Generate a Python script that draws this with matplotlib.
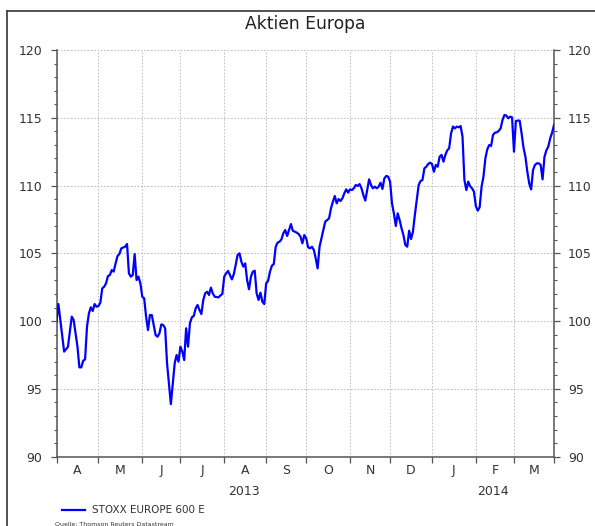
import numpy as np
import matplotlib
matplotlib.use("Agg")
import matplotlib.pyplot as plt
from matplotlib.lines import Line2D
from matplotlib.ticker import FixedLocator, FixedFormatter, MultipleLocator

# ---- data (business days since 2013-04-01, indexed value) ----
start_date = "2013-04-01"
trading_day = [0, 1, 2, 4, 6, 8, 9, 10, 11, 12, 13, 14, 15, 16, 17, 18, 19, 20, 21, 22,
               23, 24, 25, 26, 27, 28, 29, 30, 31, 32, 33, 34, 36, 37, 38, 39, 40, 41, 42, 43,
               44, 45, 46, 47, 48, 49, 50, 51, 52, 53, 54, 55, 56, 57, 58, 59, 60, 61, 62, 63,
               64, 65, 66, 67, 68, 69, 70, 71, 72, 73, 74, 75, 76, 77, 78, 79, 80, 81, 82, 83,
               85, 86, 87, 88, 89, 90, 91, 92, 93, 94, 95, 96, 97, 98, 99, 100, 101, 102, 103, 104,
               105, 106, 107, 108, 109, 110, 111, 112, 113, 114, 115, 116, 117, 118, 119, 120, 121, 122, 123, 124,
               125, 126, 127, 128, 129, 130, 131, 132, 133, 134, 135, 136, 137, 138, 139, 140, 141, 142, 143, 144,
               145, 146, 147, 148, 149, 150, 151, 152, 153, 154, 155, 156, 157, 158, 159, 160, 161, 162, 163, 164,
               165, 166, 167, 168, 169, 170, 171, 172, 173, 174, 175, 176, 177, 178, 179, 180, 181, 182, 183, 184,
               185, 186, 187, 188, 189, 190, 191, 192, 193, 194, 195, 196, 197, 198, 199, 200, 201, 202, 203, 204,
               205, 206, 207, 208, 209, 210, 211, 212, 213, 214, 215, 216, 217, 218, 219, 220, 221, 222, 223, 224,
               225, 226, 227, 228, 229, 230, 231, 232, 233, 234, 235, 236, 237, 238, 239, 240, 241, 242, 243, 244,
               245, 246, 247, 248, 249, 250, 251, 252, 253, 254, 255, 256, 257, 258, 259, 260, 261]
stoxx_600 = [100.0, 101.26, 100.08, 97.75, 98.1, 100.33, 100.08, 99.1, 98.12, 96.59, 96.59, 97.08, 97.18, 99.59, 100.57, 101.02, 100.75, 101.26, 101.06, 101.11,
             101.36, 102.42, 102.54, 102.79, 103.33, 103.4, 103.77, 103.65, 104.26, 104.8, 104.95, 105.37, 105.49, 105.69, 103.52, 103.28, 103.4, 104.95, 103.03, 103.28,
             102.79, 101.8, 101.68, 100.33, 99.34, 100.45, 100.45, 99.71, 98.97, 98.85, 99.1, 99.76, 99.71, 99.47, 96.88, 95.41, 93.88, 95.41, 96.88, 97.5,
             97.01, 98.12, 97.75, 97.13, 99.47, 98.12, 99.84, 100.28, 100.38, 100.94, 101.19, 100.82, 100.52, 101.56, 102.05, 102.17, 101.93, 102.47, 102.05, 101.8,
             101.75, 101.9, 102.0, 103.28, 103.53, 103.7, 103.4, 103.08, 103.45, 104.14, 104.88, 105.0, 104.38, 104.02, 104.26, 103.03, 102.35, 103.28, 103.65, 103.72,
             102.05, 101.56, 102.1, 101.43, 101.26, 102.79, 102.97, 103.65, 104.09, 104.21, 105.49, 105.79, 105.86, 106.03, 106.48, 106.72, 106.28, 106.72, 107.16, 106.66,
             106.6, 106.53, 106.43, 106.23, 105.74, 106.35, 106.11, 105.44, 105.37, 105.49, 105.25, 104.63, 103.89, 105.49, 106.11, 106.72, 107.34, 107.46, 107.58, 108.32,
             108.81, 109.23, 108.69, 109.01, 108.86, 109.06, 109.43, 109.72, 109.48, 109.72, 109.67, 109.8, 110.04, 109.97, 110.11, 109.8, 109.3, 108.89, 109.67, 110.46,
             110.04, 109.8, 109.92, 109.8, 109.92, 110.21, 109.75, 110.53, 110.71, 110.66, 110.29, 108.69, 107.95, 107.02, 107.95, 107.46, 106.85, 106.35, 105.62, 105.49,
             106.67, 106.06, 106.6, 107.83, 108.94, 110.04, 110.34, 110.41, 111.27, 111.39, 111.59, 111.69, 111.59, 111.02, 111.52, 111.39, 112.13, 112.26, 111.76, 112.26,
             112.6, 112.75, 113.85, 114.35, 114.22, 114.35, 114.3, 114.39, 113.61, 110.41, 109.67, 110.29, 109.95, 109.8, 109.55, 108.49, 108.15, 108.4, 109.92, 110.66,
             112.01, 112.67, 112.99, 112.92, 113.73, 113.9, 113.93, 114.03, 114.22, 114.84, 115.21, 115.16, 114.96, 115.08, 115.03, 112.5, 114.76, 114.79, 114.79, 113.85,
             112.8, 112.13, 111.03, 110.16, 109.72, 111.15, 111.52, 111.64, 111.64, 111.52, 110.46, 112.13, 112.6, 112.87, 113.48, 113.9, 114.47]

month_starts = ["2013-04-01", "2013-05-01", "2013-06-01", "2013-07-01", "2013-08-01", "2013-09-01",
                "2013-10-01", "2013-11-01", "2013-12-01", "2014-01-01", "2014-02-01", "2014-03-01",
                "2014-04-01"]
month_labels = ["A", "M", "J", "J", "A", "S", "O", "N", "D", "J", "F", "M"]
year_labels = ["2013", "2014"]
year_spans = [("2013-04-01", "2014-01-01"), ("2014-01-01", "2014-04-01")]
y_ticks = [90, 95, 100, 105, 110, 115, 120]
series_name = "STOXX EUROPE 600 E"
title = "Aktien Europa"
source = "Quelle: Thomson Reuters Datastream"

# ---- figure ----
W, H = 595, 526
fig = plt.figure(figsize=(W / 100, H / 100), dpi=100)
plt.rcParams["font.family"] = ["DejaVu Sans"]

def fx(px):
    return px / W

def fy(py):
    return 1 - py / H

frame_col = "#444444"
fig.add_artist(Line2D([fx(7), 1], [fy(11), fy(11)], transform=fig.transFigure, color=frame_col, lw=1.3))
fig.add_artist(Line2D([fx(7), fx(7)], [0, fy(11)], transform=fig.transFigure, color=frame_col, lw=1.3))

ax = fig.add_axes([fx(56.5), fy(456.7), fx(554) - fx(56.5), fy(50) - fy(456.7)])

def bday(d):
    return int(np.busday_count(start_date, d))

x = np.array(trading_day, dtype=float)
ax.plot(x, stoxx_600, color="#0000ff", lw=1.6, zorder=3, solid_joinstyle="round")

bounds = [bday(d) for d in month_starts]
mids = [(bounds[i] + bounds[i + 1]) / 2 for i in range(len(bounds) - 1)]

ax.set_xlim(bounds[0], bounds[-1])
ax.set_ylim(y_ticks[0], y_ticks[-1])

ax.xaxis.set_major_locator(FixedLocator(bounds))
ax.xaxis.set_major_formatter(FixedFormatter([""] * len(bounds)))
ax.xaxis.set_minor_locator(FixedLocator(mids))
ax.xaxis.set_minor_formatter(FixedFormatter(month_labels))
ax.yaxis.set_major_locator(FixedLocator(y_ticks))
ax.yaxis.set_minor_locator(MultipleLocator(1))

spine_col = "#555555"
label_col = "#333333"
for s in ["left", "right", "bottom"]:
    ax.spines[s].set_color(spine_col)
    ax.spines[s].set_linewidth(1.1)
ax.spines["top"].set_visible(False)

ax.tick_params(axis="x", which="major", direction="out", length=4, width=0.9, color=spine_col)
ax.tick_params(axis="x", which="minor", length=0, pad=5, labelsize=9, labelcolor=label_col)
ax.tick_params(axis="y", which="major", direction="out", length=4, width=0.9, color=spine_col,
               left=True, right=True, labelleft=True, labelright=True, labelsize=9,
               labelcolor=label_col, pad=6)
ax.tick_params(axis="y", which="minor", direction="out", length=2.5, width=0.8, color=spine_col,
               left=True, right=True)

ax.grid(True, which="major", axis="both", color="#b5b5b5", linestyle=(0, (2, 2)), lw=0.6)
ax.set_axisbelow(True)

for lab, (a, b) in zip(year_labels, year_spans):
    ax.annotate(lab, xy=((bday(a) + bday(b)) / 2, 0), xycoords=("data", "axes fraction"),
                xytext=(0, -35), textcoords="offset pixels", ha="center", va="center",
                fontsize=9, color=label_col)

fig.text(fx(305), fy(24), title, ha="center", va="center", fontsize=12.3, color="#222222")

fig.add_artist(Line2D([fx(62), fx(85)], [fy(510), fy(510)], transform=fig.transFigure,
                      color="#0000ff", lw=1.6))
fig.text(fx(92), fy(510), series_name, ha="left", va="center", fontsize=7.5, color=label_col)
fig.text(fx(55), fy(524), source, ha="left", va="center", fontsize=4.5, color=label_col)

fig.savefig("out.png", dpi=100)
